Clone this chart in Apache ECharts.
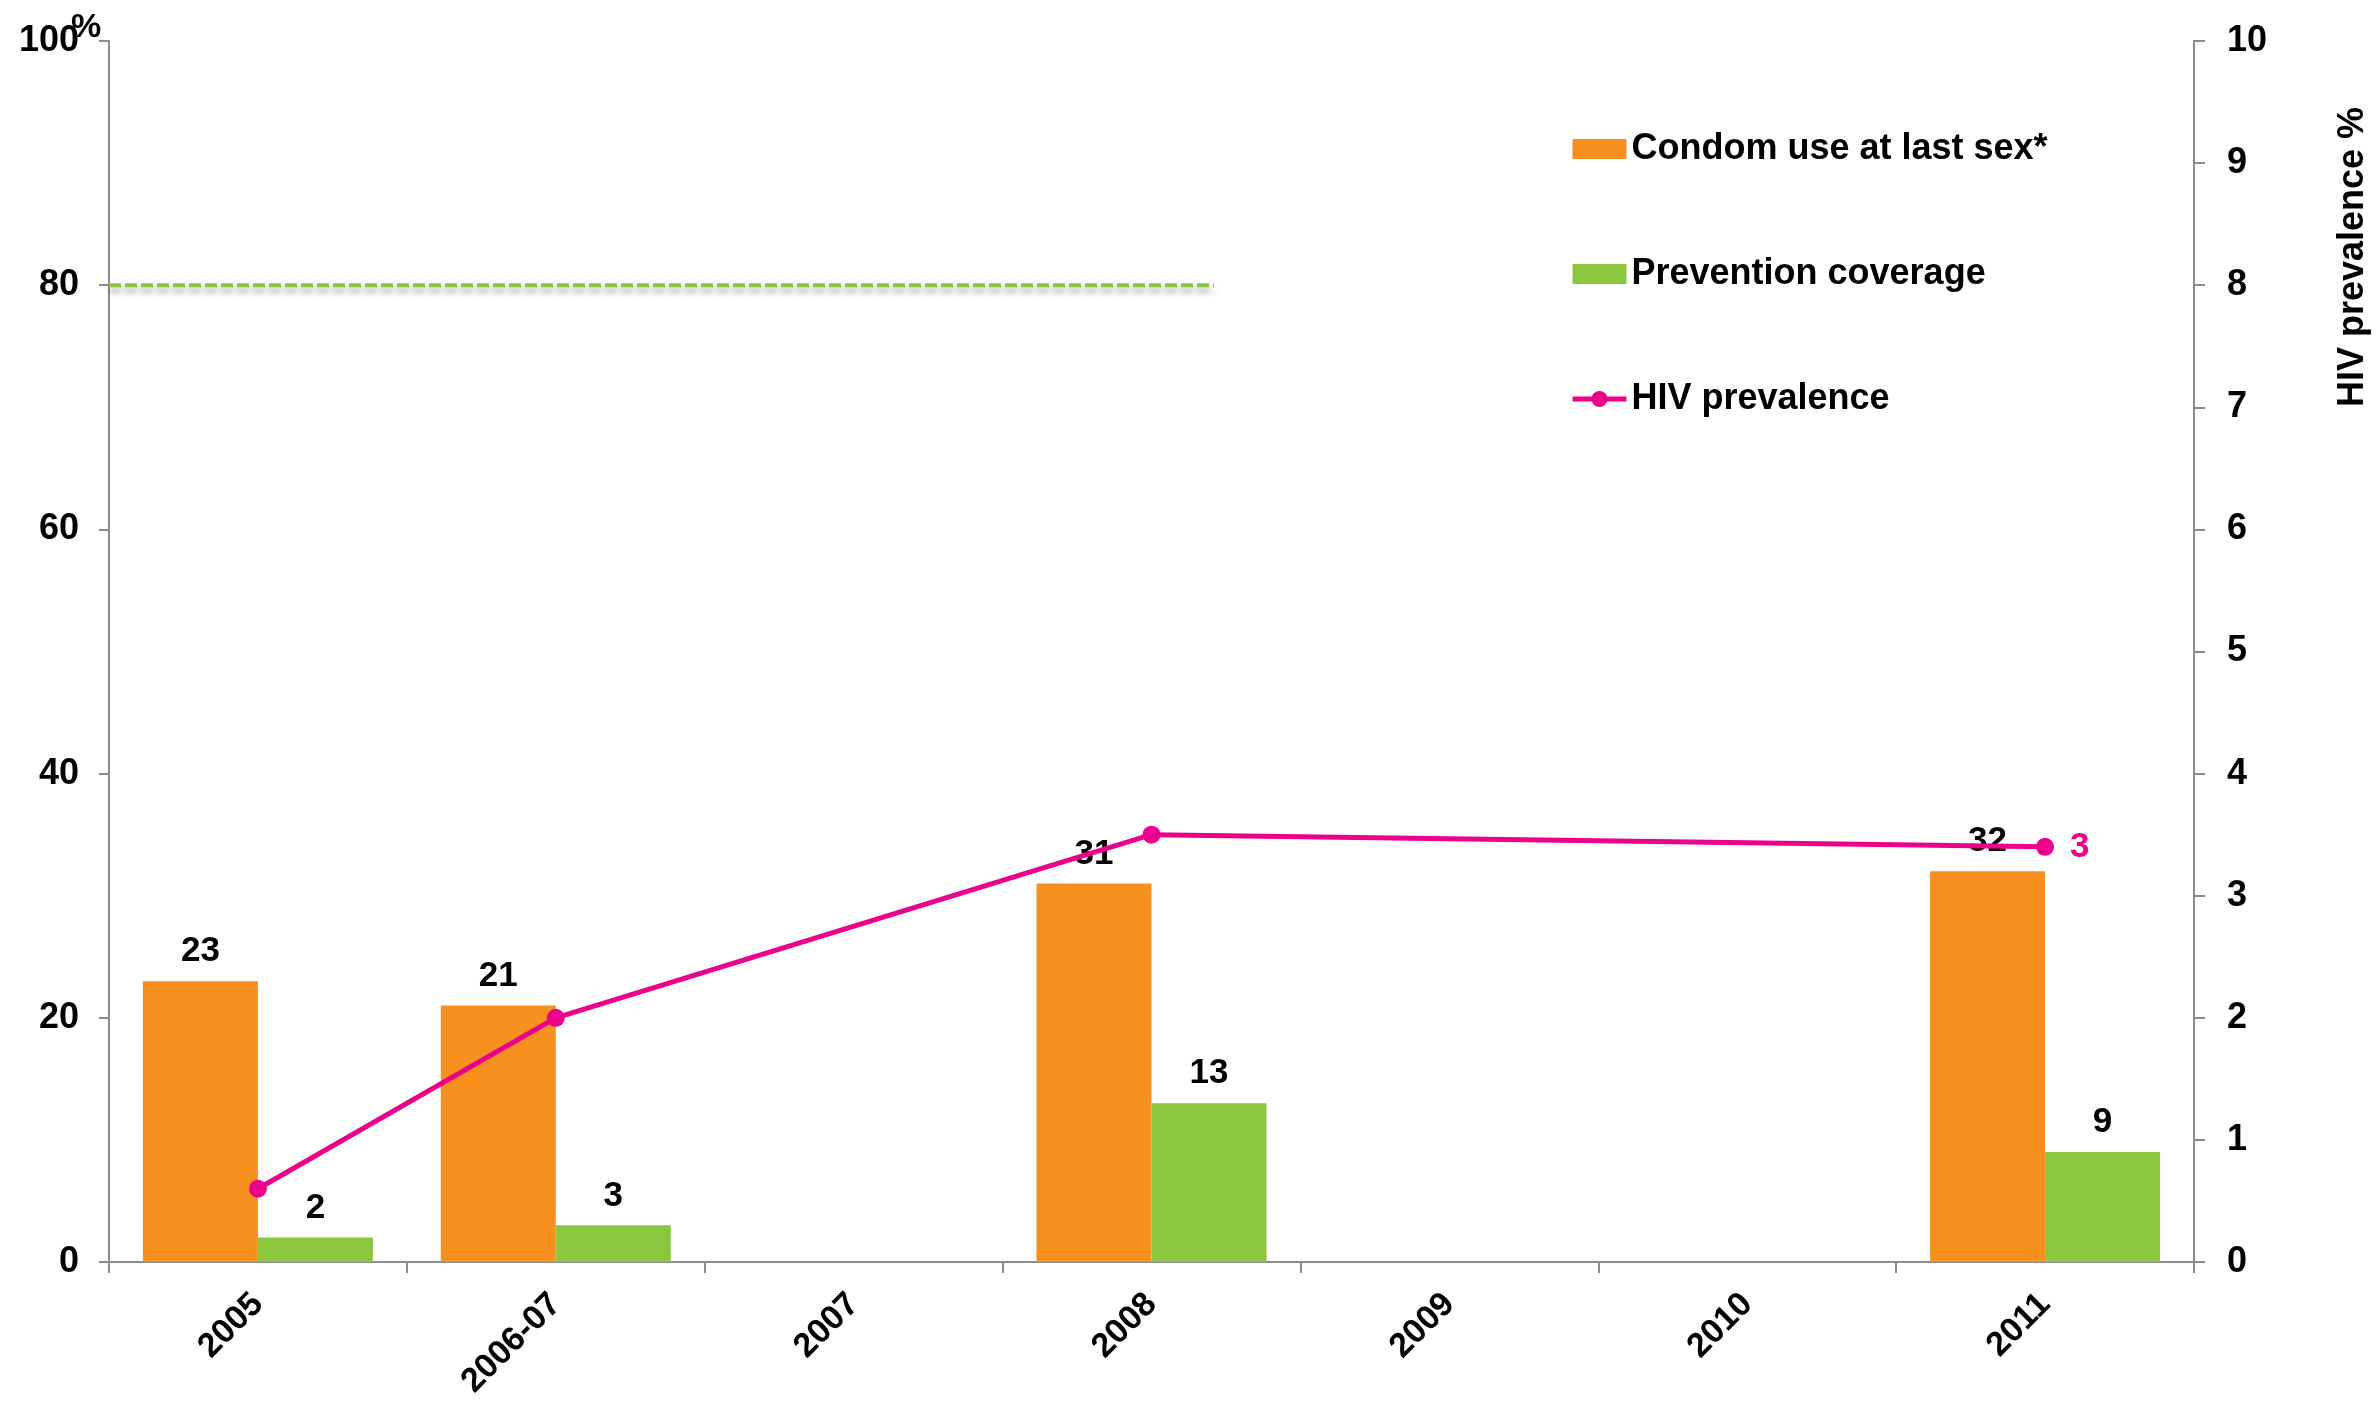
<!DOCTYPE html>
<html>
<head>
<meta charset="utf-8">
<script src="https://cdn.jsdelivr.net/npm/echarts@6/dist/echarts.min.js"></script>
<style>
html,body{margin:0;padding:0;background:#fff;}
#chart{width:2376px;height:1403px;}
</style>
</head>
<body>
<div id="chart"></div>
<script>
const categories = ['2005', '2006-07', '2007', '2008', '2009', '2010', '2011'];
const condomUse = [23, 21, null, 31, null, null, 32];
const preventionCoverage = [2, 3, null, 13, null, null, 9];
const hivPrevalence = [0.6, 2.0, null, 3.5, null, null, 3.4];
const targetValue = 80;
const targetSpan = [0, 3.71];
const leftTicks = { min: 0, max: 100, interval: 20 };
const rightTicks = { min: 0, max: 10, interval: 1 };

const FONT = '"Liberation Sans", Arial, sans-serif';
const ORANGE = '#F7901E';
const GREEN = '#8CC63F';
const PINK = '#EC008C';
const AXIS = '#8C8C8C';

let lastHiv = -1;
hivPrevalence.forEach((v, i) => { if (v !== null) lastHiv = i; });

const chart = echarts.init(document.getElementById('chart'), null, { renderer: 'canvas' });
chart.setOption({
  animation: false,
  backgroundColor: '#fff',
  textStyle: { fontFamily: FONT },
  grid: { left: 109, right: 182, top: 41, bottom: 141, containLabel: false, outerBoundsMode: 'none' },
  legend: {
    orient: 'vertical',
    left: 1565,
    top: 126,
    itemGap: 89,
    itemWidth: 54,
    itemHeight: 20,
    lineStyle: { width: 5 },
    data: [
      { name: 'Condom use at last sex*', icon: 'rect' },
      { name: 'Prevention coverage', icon: 'rect' },
      { name: 'HIV prevalence' }
    ],
    textStyle: { fontFamily: FONT, fontWeight: 'bold', fontSize: 36, color: '#000' }
  },
  xAxis: [
    {
      type: 'category',
      data: categories,
      boundaryGap: true,
      axisLine: { lineStyle: { color: AXIS, width: 2 } },
      axisTick: { show: true, length: 11, lineStyle: { color: AXIS, width: 2 } },
      axisLabel: { rotate: 45, margin: 37, color: '#000', fontWeight: 'bold', fontSize: 34, fontFamily: FONT, interval: 0 },
      splitLine: { show: false }
    },
    { type: 'value', min: 0, max: categories.length, show: false }
  ],
  yAxis: [
    {
      type: 'value',
      min: leftTicks.min, max: leftTicks.max, interval: leftTicks.interval,
      axisLine: { show: true, lineStyle: { color: AXIS, width: 2 } },
      axisTick: { show: true, length: 10, lineStyle: { color: AXIS, width: 2 } },
      axisLabel: { margin: 30, color: '#000', fontWeight: 'bold', fontSize: 36, fontFamily: FONT },
      splitLine: { show: false }
    },
    {
      type: 'value',
      position: 'right',
      min: rightTicks.min, max: rightTicks.max, interval: rightTicks.interval,
      axisLine: { show: true, lineStyle: { color: AXIS, width: 2 } },
      axisTick: { show: true, length: 11, lineStyle: { color: AXIS, width: 2 } },
      axisLabel: { margin: 33, color: '#000', fontWeight: 'bold', fontSize: 36, fontFamily: FONT },
      splitLine: { show: false }
    }
  ],
  graphic: [
    {
      type: 'text',
      x: 86, y: 28,
      style: {
        text: '%',
        font: 'bold 34px ' + FONT,
        fill: '#000',
        textAlign: 'center',
        textVerticalAlign: 'middle'
      }
    },
    {
      type: 'text',
      x: 2353, y: 257,
      rotation: Math.PI / 2,
      style: {
        text: 'HIV prevalence %',
        font: 'bold 36px ' + FONT,
        fill: '#000',
        textAlign: 'center',
        textVerticalAlign: 'middle'
      }
    }
  ],
  series: [
    {
      name: 'Condom use at last sex*',
      type: 'bar',
      data: condomUse,
      barWidth: 115,
      barGap: '0%',
      itemStyle: { color: ORANGE },
      z: 2,
      label: { show: true, position: 'top', distance: 12, color: '#000', fontWeight: 'bold', fontSize: 35, fontFamily: FONT }
    },
    {
      name: 'Prevention coverage',
      type: 'bar',
      data: preventionCoverage,
      barWidth: 115,
      barGap: '0%',
      itemStyle: { color: GREEN },
      z: 2,
      label: { show: true, position: 'top', distance: 12, color: '#000', fontWeight: 'bold', fontSize: 35, fontFamily: FONT }
    },
    {
      name: 'Target',
      type: 'line',
      xAxisIndex: 1,
      yAxisIndex: 0,
      data: [[targetSpan[0], targetValue], [targetSpan[1], targetValue]],
      symbol: 'none',
      silent: true,
      z: 1,
      lineStyle: {
        color: GREEN, width: 4, type: [12, 4],
        shadowColor: 'rgba(0,0,0,0.35)', shadowBlur: 6, shadowOffsetY: 5
      }
    },
    {
      name: 'HIV prevalence',
      type: 'line',
      yAxisIndex: 1,
      connectNulls: true,
      data: hivPrevalence.map((v, i) => ({
        value: v,
        label: { show: i === lastHiv }
      })),
      symbol: 'circle',
      symbolSize: 18,
      z: 3,
      itemStyle: { color: PINK },
      lineStyle: { color: PINK, width: 5 },
      label: {
        position: 'right', distance: 16, color: PINK, fontWeight: 'bold', fontSize: 35, fontFamily: FONT,
        formatter: p => Math.round(p.value)
      }
    }
  ]
});
</script>
</body>
</html>
